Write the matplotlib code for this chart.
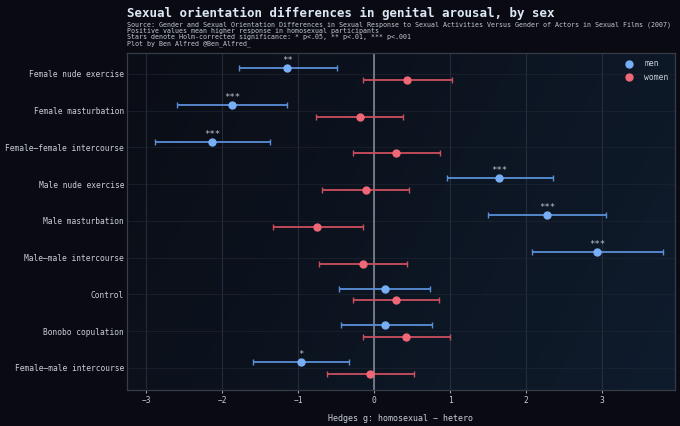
import numpy as np
import matplotlib
matplotlib.use("Agg")
import matplotlib.pyplot as plt
from matplotlib.lines import Line2D
from matplotlib.colors import LinearSegmentedColormap

categories = ["Female nude exercise", "Female masturbation", "Female–female intercourse",
              "Male nude exercise", "Male masturbation", "Male–male intercourse",
              "Control", "Bonobo copulation", "Female–male intercourse"]

men_g  = [-1.14, -1.87, -2.13, 1.65, 2.28, 2.94, 0.14, 0.15, -0.96]
men_lo = [-1.78, -2.59, -2.88, 0.96, 1.50, 2.08, -0.46, -0.44, -1.59]
men_hi = [-0.49, -1.15, -1.37, 2.35, 3.05, 3.80, 0.74, 0.76, -0.33]
men_stars = ["**", "***", "***", "***", "***", "***", "", "", "*"]

women_g  = [0.44, -0.19, 0.29, -0.11, -0.75, -0.15, 0.29, 0.42, -0.05]
women_lo = [-0.14, -0.76, -0.28, -0.68, -1.33, -0.72, -0.28, -0.15, -0.62]
women_hi = [1.02, 0.38, 0.87, 0.46, -0.15, 0.43, 0.86, 1.00, 0.53]

xticks = [-3, -2, -1, 0, 1, 2, 3]

FONT = "DejaVu Sans Mono"
plt.rcParams['font.family'] = [FONT]
FIG_BG = "#0a0b12"
TXT = "#c9ced8"
MEN_M, MEN_L = "#78aef5", "#5a8fd8"
WOM_M, WOM_L = "#f06878", "#cc4f5e"

fig = plt.figure(figsize=(6.8, 4.26), dpi=100, facecolor=FIG_BG)
ax = fig.add_axes([127/680, 1-390/426, (675-127)/680, (390-53)/426])
ax.set_facecolor("#0b0f18")

# gradient background
gx, gy = np.meshgrid(np.linspace(0, 1, 200), np.linspace(0, 1, 100))
grad = 0.75*gx + 0.25*gy
cmap = LinearSegmentedColormap.from_list("bg", ["#0a0d15", "#0f1c2d"])
ax.imshow(grad, extent=[0, 1, 0, 1], transform=ax.transAxes, cmap=cmap,
          aspect="auto", zorder=0, interpolation="bicubic", origin="upper")

y = np.arange(len(categories))
off = 0.16

ax.axvline(0, color="#8a909c", lw=1.1, zorder=1)

men_err = [np.array(men_g) - np.array(men_lo), np.array(men_hi) - np.array(men_g)]
wom_err = [np.array(women_g) - np.array(women_lo), np.array(women_hi) - np.array(women_g)]

ax.errorbar(men_g, y - off, xerr=men_err, fmt="o", color=MEN_M, ecolor=MEN_L,
            elinewidth=1.3, capsize=2, capthick=1, markersize=5, zorder=3,
            markeredgecolor=MEN_M)
ax.errorbar(women_g, y + off, xerr=wom_err, fmt="o", color=WOM_M, ecolor=WOM_L,
            elinewidth=1.3, capsize=2, capthick=1, markersize=5, zorder=3,
            markeredgecolor=WOM_M)

for yi, g, s in zip(y, men_g, men_stars):
    if s:
        ax.text(g, yi - off - 0.08, s, ha="center", va="bottom", color="#c0c4cc",
                fontsize=6.5, fontfamily=FONT, zorder=4)

ax.set_xlim(-3.25, 3.96)
ax.set_ylim(len(categories) - 0.4, -0.57)
ax.set_yticks(y)
ax.set_yticklabels(categories)
ax.set_xticks(xticks)
ax.set_xticklabels([f"{t}".replace("-", "\u2212") for t in xticks])

ax.grid(True, axis="x", color="#2c3240", lw=0.8, alpha=0.8, zorder=0.5)
ax.grid(True, axis="y", color="#1f2430", lw=0.7, alpha=0.7, zorder=0.5)
ax.set_axisbelow(True)
for sp in ax.spines.values():
    sp.set_color("#363c48")
    sp.set_linewidth(0.9)
ax.tick_params(axis="both", colors="#9aa0aa", labelcolor=TXT, labelsize=5.7,
               length=2.5, width=0.8, pad=2)
ax.tick_params(axis="y", length=0, pad=2)

ax.set_xlabel("Hedges g: homosexual \u2212 hetero", color=TXT, fontsize=6, labelpad=6)

handles = [Line2D([], [], marker="o", ls="none", color=MEN_M, markersize=5, label="men"),
           Line2D([], [], marker="o", ls="none", color=WOM_M, markersize=5, label="women")]
ax.legend(handles=handles, loc="upper right", frameon=False, fontsize=5.8,
          handletextpad=0.9, labelspacing=0.55, labelcolor=TXT, borderaxespad=0.4)

fig.text(127/680, 1-13/426, "Sexual orientation differences in genital arousal, by sex",
         color="#dde8f5", fontsize=9, fontweight="bold", va="center", ha="left")
sub = ["Source: Gender and Sexual Orientation Differences in Sexual Response to Sexual Activities Versus Gender of Actors in Sexual Films (2007)",
       "Positive values mean higher response in homosexual participants",
       "Stars denote Holm-corrected significance: * p<.05, ** p<.01, *** p<.001",
       "Plot by Ben Alfred @Ben_Alfred_"]
for i, line in enumerate(sub):
    fig.text(127/680, 1-(24.3 + 6.4*i)/426, line, color="#c2c8d2", fontsize=4.75,
             va="center", ha="left")

fig.savefig("out.png", dpi=100, facecolor=FIG_BG)
